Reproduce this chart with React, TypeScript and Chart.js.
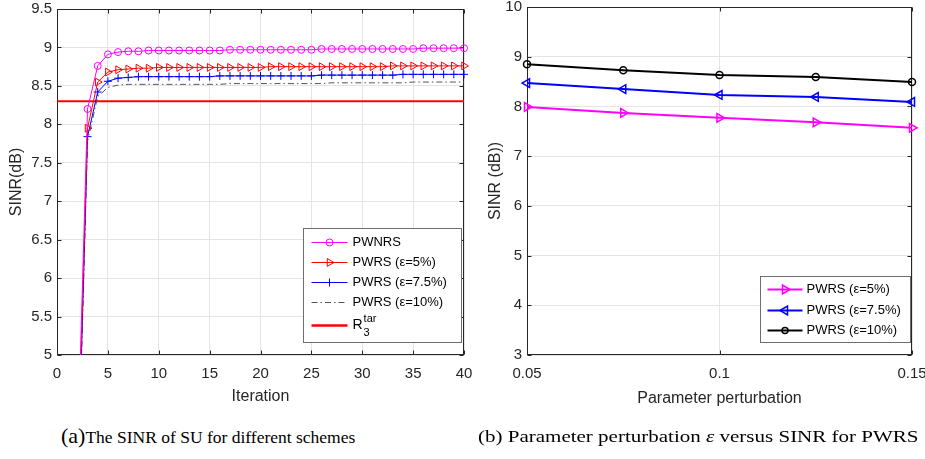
import React, { useEffect, useRef } from 'react';
import { Chart, registerables } from 'chart.js';

Chart.register(...registerables);

// ---------- Data: left chart (a) ----------
const iterations = [2, 3, 4, 5, 6, 7, 8, 9, 10, 11, 12, 13, 14, 15, 16, 17, 18, 19, 20, 21, 22, 23, 24, 25, 26, 27, 28, 29, 30, 31, 32, 33, 34, 35, 36, 37, 38, 39, 40];
const pwnrs = [3.6, 8.2, 8.76, 8.91, 8.94, 8.95, 8.95, 8.96, 8.96, 8.96, 8.96, 8.96, 8.96, 8.96, 8.96, 8.97, 8.97, 8.97, 8.97, 8.97, 8.97, 8.97, 8.97, 8.97, 8.98, 8.98, 8.98, 8.98, 8.98, 8.98, 8.98, 8.98, 8.98, 8.98, 8.99, 8.99, 8.99, 8.99, 8.99];
const pwrs5 = [3.4, 7.95, 8.55, 8.68, 8.71, 8.72, 8.73, 8.73, 8.74, 8.74, 8.74, 8.74, 8.74, 8.74, 8.74, 8.74, 8.74, 8.74, 8.74, 8.75, 8.75, 8.75, 8.75, 8.75, 8.75, 8.75, 8.75, 8.75, 8.75, 8.75, 8.75, 8.76, 8.76, 8.76, 8.76, 8.76, 8.76, 8.76, 8.76];
const pwrs75 = [3.1, 7.84, 8.42, 8.56, 8.6, 8.61, 8.62, 8.62, 8.62, 8.62, 8.62, 8.62, 8.62, 8.62, 8.63, 8.63, 8.63, 8.63, 8.63, 8.63, 8.63, 8.63, 8.63, 8.63, 8.64, 8.64, 8.64, 8.64, 8.64, 8.64, 8.64, 8.64, 8.65, 8.65, 8.65, 8.65, 8.65, 8.65, 8.65];
const pwrs10 = [3.0, 7.78, 8.36, 8.48, 8.51, 8.52, 8.52, 8.52, 8.52, 8.52, 8.52, 8.52, 8.52, 8.52, 8.52, 8.53, 8.53, 8.53, 8.53, 8.53, 8.53, 8.53, 8.53, 8.53, 8.53, 8.54, 8.54, 8.54, 8.54, 8.54, 8.54, 8.54, 8.54, 8.55, 8.55, 8.55, 8.55, 8.55, 8.55];
const targetIter = [0, 40];
const targetSinr = [8.3, 8.3];
const leftXTicks = [0, 5, 10, 15, 20, 25, 30, 35, 40];
const leftYTicks = [5, 5.5, 6, 6.5, 7, 7.5, 8, 8.5, 9, 9.5];

// ---------- Data: right chart (b) ----------
const perturbation = [0.05, 0.075, 0.1, 0.125, 0.15];
const sinrEps5 = [7.99, 7.87, 7.77, 7.68, 7.57];
const sinrEps75 = [8.47, 8.35, 8.23, 8.19, 8.09];
const sinrEps10 = [8.85, 8.73, 8.63, 8.59, 8.49];
const rightXTicks = [0.05, 0.1, 0.15];
const rightYTicks = [3, 4, 5, 6, 7, 8, 9, 10];

const SANS = "'Liberation Sans', Arial, Helvetica, sans-serif";
const AXIS_COLOR = '#262626';
const GRID_COLOR = '#e4e4e4';

const toXY = (xs: number[], ys: number[]) => xs.map((x, i) => ({ x, y: ys[i] }));

type MarkerKind = 'circle' | 'triR' | 'triL' | 'plus' | null;

function drawMarker(ctx: CanvasRenderingContext2D, kind: MarkerKind, x: number, y: number, r: number, color: string, lw: number) {
  if (!kind) return;
  ctx.save();
  ctx.strokeStyle = color;
  ctx.lineWidth = lw;
  ctx.setLineDash([]);
  ctx.beginPath();
  if (kind === 'circle') {
    ctx.arc(x, y, r, 0, Math.PI * 2);
  } else if (kind === 'triR') {
    ctx.moveTo(x + r, y);
    ctx.lineTo(x - r / 2, y - r * 0.866);
    ctx.lineTo(x - r / 2, y + r * 0.866);
    ctx.closePath();
  } else if (kind === 'triL') {
    ctx.moveTo(x - r, y);
    ctx.lineTo(x + r / 2, y - r * 0.866);
    ctx.lineTo(x + r / 2, y + r * 0.866);
    ctx.closePath();
  } else if (kind === 'plus') {
    ctx.moveTo(x - r, y);
    ctx.lineTo(x + r, y);
    ctx.moveTo(x, y - r);
    ctx.lineTo(x, y + r);
  }
  ctx.stroke();
  ctx.restore();
}

type LegendEntry = {
  label: string;
  color: string;
  width: number;
  dash?: number[];
  marker: MarkerKind;
  markerR?: number;
  markerW?: number;
  sup?: string;
  sub?: string;
  rowY: number;
};

type LegendBox = {
  rightOffset: number;
  bottomOffset: number;
  width: number;
  height: number;
  lineStart: number;
  lineEnd: number;
  textX: number;
};

function makeLegendPlugin(id: string, entries: LegendEntry[], box: LegendBox) {
  return {
    id,
    afterDraw(chart: any) {
      const { ctx, chartArea } = chart;
      const bx = Math.round(chartArea.right - box.rightOffset - box.width) + 0.5;
      const by = Math.round(chartArea.bottom - box.bottomOffset - box.height) + 0.5;
      ctx.save();
      ctx.fillStyle = '#ffffff';
      ctx.fillRect(bx, by, box.width, box.height);
      ctx.strokeStyle = '#6e6e6e';
      ctx.lineWidth = 1;
      ctx.strokeRect(bx, by, box.width, box.height);
      entries.forEach((e) => {
        const y = by + e.rowY;
        ctx.save();
        ctx.strokeStyle = e.color;
        ctx.lineWidth = e.width;
        ctx.setLineDash(e.dash || []);
        ctx.beginPath();
        ctx.moveTo(bx + box.lineStart, y);
        ctx.lineTo(bx + box.lineEnd, y);
        ctx.stroke();
        ctx.restore();
        drawMarker(ctx, e.marker, bx + (box.lineStart + box.lineEnd) / 2, y, e.markerR || 4, e.color, e.markerW || 1);
        ctx.fillStyle = '#000000';
        ctx.textBaseline = 'middle';
        ctx.textAlign = 'left';
        ctx.font = `13px ${SANS}`;
        if (e.sup || e.sub) ctx.font = `14px ${SANS}`;
        ctx.fillText(e.label, bx + box.textX, y);
        if (e.sup || e.sub) {
          const w = ctx.measureText(e.label).width;
          ctx.font = `11px ${SANS}`;
          if (e.sup) ctx.fillText(e.sup, bx + box.textX + w + 1, y - 7);
          if (e.sub) ctx.fillText(e.sub, bx + box.textX + w + 1, y + 7);
        }
      });
      ctx.restore();
    },
  };
}

const framePlugin = {
  id: 'frame',
  beforeDatasetsDraw(chart: any) {
    const { ctx, chartArea, scales } = chart;
    const L = Math.round(chartArea.left) + 0.5;
    const R = Math.round(chartArea.right) - 0.5;
    const T = Math.round(chartArea.top) + 0.5;
    const B = Math.round(chartArea.bottom) - 0.5;
    const len = 4;
    ctx.save();
    ctx.strokeStyle = AXIS_COLOR;
    ctx.lineWidth = 1;
    ctx.beginPath();
    scales.x.ticks.forEach((t: any) => {
      const px = Math.round(scales.x.getPixelForValue(t.value)) + 0.5;
      ctx.moveTo(px, B);
      ctx.lineTo(px, B - len);
      ctx.moveTo(px, T);
      ctx.lineTo(px, T + len);
    });
    scales.y.ticks.forEach((t: any) => {
      const py = Math.round(scales.y.getPixelForValue(t.value)) + 0.5;
      ctx.moveTo(L, py);
      ctx.lineTo(L + len, py);
      ctx.moveTo(R, py);
      ctx.lineTo(R - len, py);
    });
    ctx.stroke();
    ctx.strokeRect(L, T, R - L, B - T);
    ctx.restore();
  },
};

function fixedY(width: number) {
  return (scale: any) => {
    scale.width = width;
    scale.paddingTop = 0;
    scale.paddingBottom = 0;
  };
}
function fixedX(height: number) {
  return (scale: any) => {
    scale.height = height;
    scale.paddingLeft = 0;
    scale.paddingRight = 0;
  };
}
const setTicks = (vals: number[]) => (scale: any) => {
  scale.ticks = vals.map((v) => ({ value: v }));
};

function commonScale(min: number, max: number, ticks: number[], title: string, pad: any, tickPad: number, axis: 'x' | 'y', size: number) {
  return {
    type: 'linear',
    min,
    max,
    afterBuildTicks: setTicks(ticks),
    afterFit: axis === 'y' ? fixedY(size) : fixedX(size),
    border: { display: false },
    grid: { color: GRID_COLOR, drawTicks: false, lineWidth: 1 },
    ticks: {
      padding: tickPad,
      color: AXIS_COLOR,
      font: { family: SANS, size: 15 },
      autoSkip: false,
      maxRotation: 0,
      callback: (v: any) => String(v),
    },
    title: {
      display: true,
      text: title,
      color: AXIS_COLOR,
      font: { family: SANS, size: 16 },
      padding: pad,
    },
  };
}

function LeftChart() {
  const ref = useRef<HTMLCanvasElement | null>(null);
  useEffect(() => {
    if (!ref.current) return;
    const legend = makeLegendPlugin(
      'legendA',
      [
        { label: 'PWNRS', color: '#ff00ff', width: 1, marker: 'circle', markerR: 3.5, rowY: 14 },
        { label: 'PWRS (ε=5%)', color: '#ff0000', width: 1, marker: 'triR', markerR: 4.5, rowY: 34 },
        { label: 'PWRS (ε=7.5%)', color: '#0000ff', width: 1, marker: 'plus', markerR: 4, rowY: 54 },
        { label: 'PWRS (ε=10%)', color: '#555555', width: 1, dash: [6, 3, 1.5, 3], marker: null, rowY: 74 },
        { label: 'R', sup: 'tar', sub: '3', color: '#ff0000', width: 2.5, marker: null, rowY: 97 },
      ],
      { rightOffset: 3, bottomOffset: 13, width: 158, height: 114, lineStart: 8, lineEnd: 44, textX: 49 }
    );
    const clip = { left: 6, right: 8, top: 6, bottom: 0 };
    const chart = new Chart(ref.current, {
      type: 'line',
      data: {
        datasets: [
          {
            label: 'PWNRS', data: toXY(iterations, pwnrs), borderColor: '#ff00ff', borderWidth: 1,
            pointStyle: 'circle', pointRadius: 3.5, pointBorderColor: '#ff00ff', pointBackgroundColor: 'rgba(0,0,0,0)', pointBorderWidth: 1, clip,
          },
          {
            label: 'PWRS (ε=5%)', data: toXY(iterations, pwrs5), borderColor: '#ff0000', borderWidth: 1,
            pointStyle: 'triangle', pointRotation: 90, pointRadius: 4.5, pointBorderColor: '#ff0000', pointBackgroundColor: 'rgba(0,0,0,0)', pointBorderWidth: 1, clip,
          },
          {
            label: 'PWRS (ε=7.5%)', data: toXY(iterations, pwrs75), borderColor: '#0000ff', borderWidth: 1,
            pointStyle: 'cross', pointRadius: 4, pointBorderColor: '#0000ff', pointBorderWidth: 1, clip,
          },
          {
            label: 'PWRS (ε=10%)', data: toXY(iterations, pwrs10), borderColor: '#555555', borderWidth: 1,
            borderDash: [6, 3, 1.5, 3], pointRadius: 0, clip,
          },
          {
            label: 'R3tar', data: toXY(targetIter, targetSinr), borderColor: '#ff0000', borderWidth: 2, pointRadius: 0, clip,
          },
        ],
      } as any,
      options: {
        animation: false,
        responsive: false,
        maintainAspectRatio: false,
        events: [],
        layout: { padding: { left: 0, top: 9, right: 16, bottom: 0 } },
        elements: { line: { tension: 0 } },
        plugins: { legend: { display: false }, tooltip: { enabled: false } },
        scales: {
          x: commonScale(0, 40, leftXTicks, 'Iteration', { top: 0, bottom: 14 }, 10, 'x', 65),
          y: commonScale(5, 9.5, leftYTicks, 'SINR(dB)', { top: 7, bottom: 0 }, 5, 'y', 57),
        },
      } as any,
      plugins: [framePlugin, legend],
    });
    return () => chart.destroy();
  }, []);
  return <canvas ref={ref} width={480} height={420} style={{ position: 'absolute', left: 0, top: 0, width: 480, height: 420 }} />;
}

function RightChart() {
  const ref = useRef<HTMLCanvasElement | null>(null);
  useEffect(() => {
    if (!ref.current) return;
    const legend = makeLegendPlugin(
      'legendB',
      [
        { label: 'PWRS (ε=5%)', color: '#ff00ff', width: 2, marker: 'triR', markerR: 5, markerW: 1.5, rowY: 13 },
        { label: 'PWRS (ε=7.5%)', color: '#0000ff', width: 2, marker: 'triL', markerR: 5, markerW: 1.5, rowY: 34 },
        { label: 'PWRS (ε=10%)', color: '#000000', width: 2, marker: 'circle', markerR: 3, markerW: 1.5, rowY: 54 },
      ],
      { rightOffset: 2, bottomOffset: 13, width: 150, height: 66, lineStart: 7, lineEnd: 42, textX: 46 }
    );
    const chart = new Chart(ref.current, {
      type: 'line',
      data: {
        datasets: [
          {
            label: 'PWRS (ε=5%)', data: toXY(perturbation, sinrEps5), borderColor: '#ff00ff', borderWidth: 2,
            pointStyle: 'triangle', pointRotation: 90, pointRadius: 5, pointBorderColor: '#ff00ff', pointBackgroundColor: 'rgba(0,0,0,0)', pointBorderWidth: 1.5, clip: false,
          },
          {
            label: 'PWRS (ε=7.5%)', data: toXY(perturbation, sinrEps75), borderColor: '#0000ff', borderWidth: 2,
            pointStyle: 'triangle', pointRotation: -90, pointRadius: 5, pointBorderColor: '#0000ff', pointBackgroundColor: 'rgba(0,0,0,0)', pointBorderWidth: 1.5, clip: false,
          },
          {
            label: 'PWRS (ε=10%)', data: toXY(perturbation, sinrEps10), borderColor: '#000000', borderWidth: 2,
            pointStyle: 'circle', pointRadius: 3.5, pointBorderColor: '#000000', pointBackgroundColor: 'rgba(0,0,0,0)', pointBorderWidth: 1.5, clip: false,
          },
        ],
      } as any,
      options: {
        animation: false,
        responsive: false,
        maintainAspectRatio: false,
        events: [],
        layout: { padding: { left: 0, top: 7, right: 13, bottom: 0 } },
        elements: { line: { tension: 0 } },
        plugins: { legend: { display: false }, tooltip: { enabled: false } },
        scales: {
          x: commonScale(0.05, 0.15, rightXTicks, 'Parameter perturbation', { top: 0, bottom: 12 }, 10, 'x', 65),
          y: commonScale(3, 10, rightYTicks, 'SINR (dB))', { top: 16, bottom: 0 }, 5, 'y', 57),
        },
      } as any,
      plugins: [framePlugin, legend],
    });
    return () => chart.destroy();
  }, []);
  return <canvas ref={ref} width={455} height={420} style={{ position: 'absolute', left: 470, top: 0, width: 455, height: 420 }} />;
}

export default function App() {
  useEffect(() => {
    document.body.style.margin = '0';
  }, []);
  const capStyle: React.CSSProperties = {
    position: 'absolute',
    top: 423,
    fontFamily: "'Liberation Serif', 'Times New Roman', serif",
    fontSize: 17.5,
    lineHeight: '26px',
    color: '#000',
    whiteSpace: 'nowrap',
  };
  return (
    <div style={{ position: 'relative', width: 925, height: 459, overflow: 'hidden', background: '#fff' }}>
      <LeftChart />
      <RightChart />
      <div style={{ ...capStyle, left: 61 }}>
        <span style={{ fontSize: 22 }}>(a)</span>The SINR of SU for different schemes
      </div>
      <div style={{ ...capStyle, left: 478, transform: 'scaleX(1.2)', transformOrigin: '0 50%' }}>
        (b) Parameter perturbation <i>ε</i> versus SINR for PWRS
      </div>
    </div>
  );
}
